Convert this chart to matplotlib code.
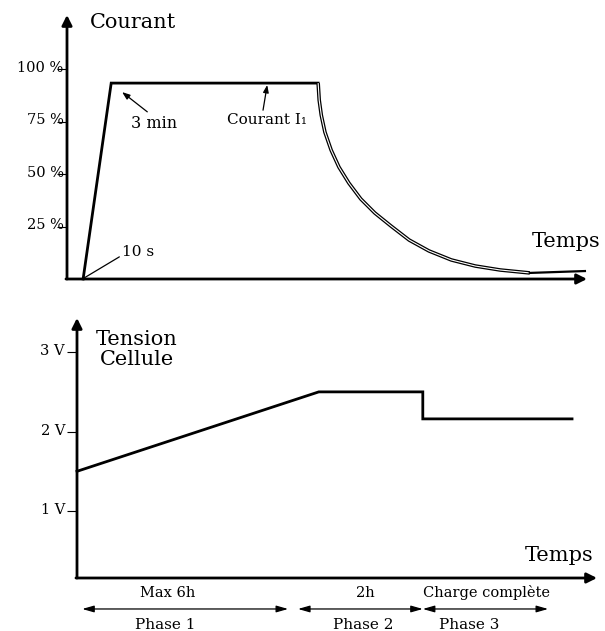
import matplotlib
matplotlib.use("Agg")
import matplotlib.pyplot as plt

plt.rcParams['font.family'] = ['DejaVu Serif']

# ---------------- data ----------------
# Top panel: current (% of nominal) vs time (arbitrary units 0..100)
ramp_t = [3.1, 8.5, 48.3]
ramp_i = [0.0, 93.5, 93.5]
decay_t = [48.3, 48.5, 48.9, 49.6, 50.8, 52.3, 54.2, 56.5, 59.2, 62.3, 65.8, 69.6,
           73.9, 78.5, 83.3, 89.0]
decay_i = [93.5, 85.4, 78.2, 70.1, 61.5, 53.4, 45.8, 38.2, 31.5, 25.3, 18.6, 13.4,
           9.1, 6.2, 4.3, 2.9]
tail_t = [89.0, 99.6]
tail_i = [2.9, 3.8]
current_ticks = [25, 50, 75, 100]
current_labels = ['25 %', '50 %', '75 %', '100 %']

# Bottom panel: cell voltage (V) vs time
volt_t = [0.0, 46.5, 66.5, 66.5, 95.2]
volt_v = [1.5, 2.5, 2.5, 2.16, 2.16]
volt_ticks = [1, 2, 3]
volt_labels = ['1 V', '2 V', '3 V']

# Phase spans (time units)
phase_spans = [(1.0, 40.6), (42.5, 66.5), (66.5, 90.6)]
phase_names = ['Phase 1', 'Phase 2', 'Phase 3']
phase_durations = ['Max 6h', '2h', 'Charge complète']
phase_name_x = [17.0, 55.0, 75.5]
phase_dur_x = [17.5, 55.4, 78.8]

W, H = 605, 631
fig = plt.figure(figsize=(W / 100, H / 100), dpi=100)


def axes_px(left, top, right, bottom):
    return fig.add_axes([left / W, 1 - bottom / H, (right - left) / W, (bottom - top) / H])


def draw_axes_arrows(ax):
    for s in ax.spines.values():
        s.set_visible(False)
    ax.annotate('', xy=(0, 1), xytext=(0, 0), xycoords='axes fraction',
                arrowprops=dict(arrowstyle='-|>,head_length=0.6,head_width=0.3', lw=2.0,
                                color='black', shrinkA=0, shrinkB=0))
    ax.annotate('', xy=(1, 0), xytext=(-0.002, 0), xycoords='axes fraction',
                arrowprops=dict(arrowstyle='-|>,head_length=0.6,head_width=0.3', lw=2.0,
                                color='black', shrinkA=0, shrinkB=0))
    ax.set_xticks([])
    ax.patch.set_visible(False)


# ---------------- top panel ----------------
ax1 = axes_px(67, 15, 587, 279)
ax1.set_xlim(0, 100)
ax1.set_ylim(0, 126)
draw_axes_arrows(ax1)
ax1.set_yticks(current_ticks)
ax1.set_yticklabels([])
ax1.tick_params(axis='y', direction='out', length=7.2, width=0.8, color='black')
for v, lab in zip(current_ticks, current_labels):
    ax1.annotate(lab, xy=(0, v), xycoords=('axes fraction', 'data'), xytext=(-2.5, -1.8),
                 textcoords='offset points', ha='right', va='baseline', fontsize=10.5)

ax1.plot(ramp_t, ramp_i, color='black', lw=2.0, solid_joinstyle='miter', clip_on=False)
ax1.plot(decay_t, decay_i, color='black', lw=2.6, clip_on=False, solid_capstyle='butt',
         solid_joinstyle='round')
ax1.plot(decay_t, decay_i, color='white', lw=0.8, clip_on=False, solid_capstyle='butt',
         solid_joinstyle='round')
ax1.plot(tail_t, tail_i, color='black', lw=1.6, clip_on=False)

ax1.text(4.4, 122.5, 'Courant', fontsize=15, ha='left', va='center')
ax1.text(89.4, 17.7, 'Temps', fontsize=15, ha='left', va='center')

ax1.annotate('10 s', xy=(3.3, 0.5), xytext=(10.6, 12.9), fontsize=11, ha='left', va='center',
             arrowprops=dict(arrowstyle='-', lw=0.9, color='black', shrinkA=0, shrinkB=0,
                             relpos=(-0.05, 0.2)))
ax1.annotate('3 min', xy=(10.6, 89.2), xytext=(16.8, 74.4), fontsize=11.5, ha='center', va='center',
             arrowprops=dict(arrowstyle='-|>,head_length=0.4,head_width=0.15', lw=0.9,
                             color='black', shrinkA=0, shrinkB=0, relpos=(0.4, 1.05)))
ax1.annotate('Courant I₁', xy=(38.5, 92.6), xytext=(38.4, 75.9), fontsize=11, ha='center', va='center',
             arrowprops=dict(arrowstyle='-|>,head_length=0.4,head_width=0.15', lw=0.9,
                             color='black', shrinkA=0, shrinkB=0, relpos=(0.45, 1.05)))

# ---------------- bottom panel ----------------
ax2 = axes_px(77, 318, 597, 578)
ax2.set_xlim(0, 100)
ax2.set_ylim(0.157, 3.43)
draw_axes_arrows(ax2)
ax2.set_yticks(volt_ticks)
ax2.set_yticklabels([])
ax2.tick_params(axis='y', direction='out', length=7.2, width=0.8, color='black')
for v, lab in zip(volt_ticks, volt_labels):
    ax2.annotate(lab, xy=(0, v), xycoords=('axes fraction', 'data'), xytext=(-8.6, -2.4),
                 textcoords='offset points', ha='right', va='baseline', fontsize=10.5)

ax2.plot(volt_t, volt_v, color='black', lw=2.0, solid_joinstyle='miter', clip_on=False)

ax2.text(11.5, 3.03, 'Tension\nCellule', fontsize=15, ha='center', va='center', linespacing=1.05)
ax2.text(86.2, 0.446, 'Temps', fontsize=15, ha='left', va='center')

for (t0, t1), name, dur, nx, dx in zip(phase_spans, phase_names, phase_durations,
                                       phase_name_x, phase_dur_x):
    ax2.annotate('', xy=(t1, -0.233), xytext=(t0, -0.233), xycoords='data',
                 arrowprops=dict(arrowstyle='<|-|>,head_length=0.7,head_width=0.2', lw=0.9,
                                 color='black', shrinkA=0, shrinkB=0), annotation_clip=False)
    ax2.text(nx, -0.44, name, fontsize=11, ha='center', va='center', clip_on=False)
    ax2.text(dx, -0.03, dur, fontsize=10.5, ha='center', va='center', clip_on=False)

fig.savefig('out.png', dpi=100)
